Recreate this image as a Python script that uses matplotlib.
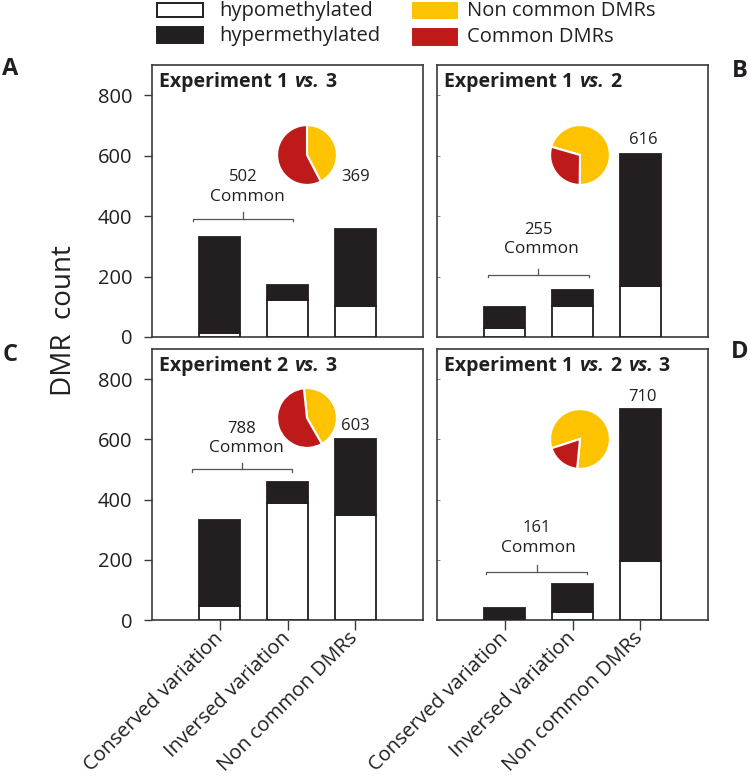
import matplotlib
matplotlib.use("Agg")
import matplotlib.pyplot as plt
from matplotlib.patches import Rectangle
from matplotlib.offsetbox import TextArea, HPacker, AnchoredOffsetbox

plt.rcParams['font.family'] = ['Open Sans', 'DejaVu Sans']

# ---------------- data ----------------
categories = ["Conserved variation", "Inversed variation", "Non common DMRs"]
panel_letters = ["A", "B", "C", "D"]
title_parts = [
    [("Experiment 1", False), ("vs.", True), ("3", False)],
    [("Experiment 1", False), ("vs.", True), ("2", False)],
    [("Experiment 2", False), ("vs.", True), ("3", False)],
    [("Experiment 1", False), ("vs.", True), ("2", False), ("vs.", True), ("3", False)],
]
hypo_A = [14, 123, 104]
hyper_A = [316, 50, 254]
hypo_B = [29, 104, 168]
hyper_B = [71, 53, 439]
hypo_C = [46, 389, 348]
hyper_C = [286, 68, 254]
hypo_D = [0, 28, 197]
hyper_D = [41, 93, 504]
common_totals = [502, 255, 788, 161]
noncommon_totals = [369, 616, 603, 710]
pie_start_angles = [90, 164, 96, 198]

hypo_all = [hypo_A, hypo_B, hypo_C, hypo_D]
hyper_all = [hyper_A, hyper_B, hyper_C, hyper_D]

# ---------------- styles / layout ----------------
W, H = 750, 777
BLACK = '#231f20'
SPINE = '#3a3a3a'
YELLOW = '#fdc300'
RED = '#be1a1a'
GREY = '#555555'

fig = plt.figure(figsize=(W / 100, H / 100), dpi=100)

def rect_px(left, top, w, h):
    return [left / W, 1 - (top + h) / H, w / W, h / H]

axes_px = [(152, 65, 271, 272), (437, 65, 271, 272),
           (152, 349, 271, 271), (437, 349, 271, 271)]
pie_centers = [(307, 155), (580, 155), (307, 418), (580, 439)]
pie_r = 30.5
# annotation positions (data coords): number, "Common", bracket x0, x1, y, noncommon label
ann = [
    dict(num=(0.34, 528), com=(0.41, 462), br=(-0.40, 1.08, 392), nc=(2.0, 528)),
    dict(num=(0.49, 355), com=(0.535, 292), br=(-0.25, 1.24, 206), nc=(2.04, 651)),
    dict(num=(0.33, 633), com=(0.39, 572), br=(-0.41, 1.06, 500), nc=(2.0, 644)),
    dict(num=(0.47, 306), com=(0.50, 239), br=(-0.27, 1.21, 161), nc=(2.03, 742)),
]
letter_pos = [(10, 69), (740, 71), (10, 355), (740, 352)]

x = list(range(len(categories)))
for i in range(4):
    ax = fig.add_axes(rect_px(*axes_px[i]))
    ax.bar(x, hypo_all[i], width=0.6, color='white', edgecolor=BLACK, linewidth=1.3, zorder=3)
    ax.bar(x, hyper_all[i], width=0.6, bottom=hypo_all[i], color=BLACK,
           edgecolor=BLACK, linewidth=1.3, zorder=3)
    ax.set_xlim(-1, 3)
    ax.set_ylim(0, 900)
    ax.set_yticks([0, 200, 400, 600, 800])
    for s in ax.spines.values():
        s.set_color(SPINE)
        s.set_linewidth(1.2)
    ax.set_xticks(x)
    if i in (0, 2):
        ax.tick_params(axis='y', direction='out', length=6, width=1, color=SPINE,
                       labelsize=14.5, pad=8, labelcolor='#231f20')
    else:
        ax.tick_params(axis='y', direction='in', length=2, width=0.8, color='#888888',
                       labelleft=False)
    if i < 2:
        ax.tick_params(axis='x', length=0, labelbottom=False)
    else:
        ax.tick_params(axis='x', direction='out', length=7, width=1, color=SPINE, pad=4)
        ax.set_xticklabels(categories, rotation=45, ha='right', va='center',
                           rotation_mode='anchor', fontsize=14.5, color='#231f20')

    # title with italic "vs."
    children = [TextArea(t, textprops=dict(fontweight='bold', fontstyle='italic' if it else 'normal',
                                           fontsize=14, color='#231f20'))
                for t, it in title_parts[i]]
    box = HPacker(children=children, align='baseline', pad=0, sep=4.5)
    anch = AnchoredOffsetbox(loc='upper left', child=box, pad=0.05, borderpad=0.45,
                             frameon=False, bbox_to_anchor=(0.0, 1.0),
                             bbox_transform=ax.transAxes)
    ax.add_artist(anch)

    a = ann[i]
    ax.text(a['num'][0], a['num'][1], str(common_totals[i]), ha='center', va='center',
            fontsize=12, color='#231f20')
    ax.text(a['com'][0], a['com'][1], 'Common', ha='center', va='center',
            fontsize=12.5, color='#231f20')
    x0, x1, yb = a['br']
    xc = (x0 + x1) / 2
    ax.plot([x0, x0, x1, x1], [yb - 9, yb, yb, yb - 9], color=GREY, lw=0.9)
    ax.plot([xc, xc], [yb, yb + 20], color=GREY, lw=0.9)
    ax.text(a['nc'][0], a['nc'][1], str(noncommon_totals[i]), ha='center', va='center',
            fontsize=12, color='#231f20')

    # pie
    cx, cy = pie_centers[i]
    pax = fig.add_axes(rect_px(cx - pie_r, cy - pie_r, 2 * pie_r, 2 * pie_r))
    pax.pie([noncommon_totals[i], common_totals[i]], colors=[YELLOW, RED],
            startangle=pie_start_angles[i], counterclock=False,
            wedgeprops=dict(edgecolor='white', linewidth=1.5))
    pax.set_xlim(-1.02, 1.02)
    pax.set_ylim(-1.02, 1.02)
    pax.set_aspect('equal')
    pax.axis('off')

    lx, ly = letter_pos[i]
    fig.text(lx / W, 1 - ly / H, panel_letters[i], ha='center', va='center',
             fontsize=17, fontweight='bold', color='#231f20')

fig.text(64 / W, 1 - 321 / H, 'DMR  count', rotation=90, ha='center', va='center',
         fontsize=20, color='#231f20')

# ---------------- legend ----------------
def box_px(x0, y0, x1, y1, fc):
    fig.patches.append(Rectangle((x0 / W, 1 - y1 / H), (x1 - x0) / W, (y1 - y0) / H,
                                 transform=fig.transFigure, facecolor=fc,
                                 edgecolor=BLACK if fc in ('white', BLACK) else fc,
                                 linewidth=1.4))

box_px(157, 3, 203, 17, 'white')
box_px(157, 27, 203, 43, BLACK)
box_px(413, 3, 457, 18, YELLOW)
box_px(413, 29, 457, 45, RED)
leg_fs = 14.5
fig.text(219 / W, 1 - 11 / H, 'hypomethylated', ha='left', va='center', fontsize=leg_fs, color='#231f20')
fig.text(219 / W, 1 - 36 / H, 'hypermethylated', ha='left', va='center', fontsize=leg_fs, color='#231f20')
fig.text(467 / W, 1 - 11 / H, 'Non common DMRs', ha='left', va='center', fontsize=leg_fs, color='#231f20')
fig.text(467 / W, 1 - 37 / H, 'Common DMRs', ha='left', va='center', fontsize=leg_fs, color='#231f20')

fig.savefig('out.png', dpi=100)
